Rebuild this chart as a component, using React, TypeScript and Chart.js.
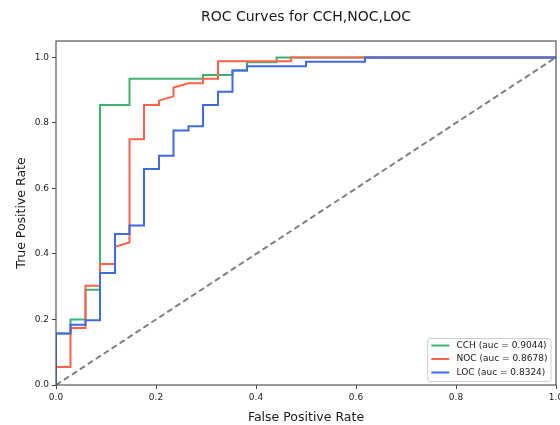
import React, { useEffect, useRef } from 'react';
import { Chart, registerables } from 'chart.js';

Chart.register(...registerables);

const chartTitle = 'ROC Curves for CCH,NOC,LOC';
const xAxisTitle = 'False Positive Rate';
const yAxisTitle = 'True Positive Rate';

const seriesNames = ['CCH', 'NOC', 'LOC'];
const seriesAuc = [0.9044, 0.8678, 0.8324];

const cchFpr = [0, 0, 0.029, 0.029, 0.059, 0.059, 0.088, 0.088, 0.147, 0.147, 0.294, 0.294, 0.353, 0.353, 0.382, 0.382, 0.441, 0.441, 1];
const cchTpr = [0, 0.157, 0.157, 0.2, 0.2, 0.291, 0.291, 0.855, 0.855, 0.935, 0.935, 0.946, 0.946, 0.96, 0.96, 0.985, 0.985, 1, 1];

const nocFpr = [0, 0, 0.029, 0.029, 0.059, 0.059, 0.088, 0.088, 0.118, 0.118, 0.147, 0.147, 0.176, 0.176, 0.206, 0.206, 0.235, 0.235, 0.265, 0.294, 0.294, 0.324, 0.324, 0.47, 0.47, 1];
const nocTpr = [0, 0.055, 0.055, 0.174, 0.174, 0.303, 0.303, 0.369, 0.369, 0.422, 0.435, 0.75, 0.75, 0.855, 0.855, 0.868, 0.881, 0.908, 0.921, 0.921, 0.935, 0.935, 0.988, 0.988, 1, 1];

const locFpr = [0, 0, 0.029, 0.029, 0.059, 0.059, 0.088, 0.088, 0.118, 0.118, 0.147, 0.147, 0.176, 0.176, 0.206, 0.206, 0.235, 0.235, 0.265, 0.265, 0.294, 0.294, 0.324, 0.324, 0.353, 0.353, 0.382, 0.382, 0.5, 0.5, 0.618, 0.618, 1];
const locTpr = [0, 0.157, 0.157, 0.184, 0.184, 0.198, 0.198, 0.342, 0.342, 0.461, 0.461, 0.487, 0.487, 0.659, 0.659, 0.7, 0.7, 0.777, 0.777, 0.79, 0.79, 0.855, 0.855, 0.895, 0.895, 0.96, 0.96, 0.973, 0.973, 0.987, 0.987, 1, 1];

const chanceFpr = [0, 1];
const chanceTpr = [0, 1];

const xTickValues = [0, 0.2, 0.4, 0.6, 0.8, 1.0];
const xTickLabels = ['0.0', '0.2', '0.4', '0.6', '0.8', '1.0'];
const yTickValues = [0, 0.2, 0.4, 0.6, 0.8, 1.0];
const yTickLabels = ['0.0', '0.2', '0.4', '0.6', '0.8', '1.0'];

const FONT = '"DejaVu Sans", sans-serif';

const toPoints = (xs: number[], ys: number[]) => xs.map((x, i) => ({ x, y: ys[i] }));

const decorPlugin = {
  id: 'decor',
  afterDatasetsDraw(chart: any) {
    const { ctx, chartArea: a } = chart;
    ctx.save();
    // frame
    ctx.strokeStyle = '#555';
    ctx.lineWidth = 1.2;
    ctx.strokeRect(a.left, a.top, a.right - a.left, a.bottom - a.top);
    // title
    ctx.fillStyle = '#1a1a1a';
    ctx.font = `14px ${FONT}`;
    ctx.textAlign = 'center';
    ctx.textBaseline = 'middle';
    ctx.fillText(chartTitle, (a.left + a.right) / 2, 17.5);
    // legend
    const items = chart.data.datasets.filter((d: any) => d.inLegend);
    ctx.font = `9px ${FONT}`;
    let maxW = 0;
    items.forEach((d: any) => { maxW = Math.max(maxW, ctx.measureText(d.label).width); });
    const pad = 3.6;
    const handle = 18;
    const gap = 7.2;
    const rowH = 13.5;
    const boxW = pad + handle + gap + maxW + pad;
    const boxH = 43;
    const right = a.right - 5;
    const bottom = a.bottom - 3.5;
    const left = right - boxW;
    const top = bottom - boxH;
    const r = 2.5;
    ctx.beginPath();
    ctx.moveTo(left + r, top);
    ctx.lineTo(right - r, top);
    ctx.quadraticCurveTo(right, top, right, top + r);
    ctx.lineTo(right, bottom - r);
    ctx.quadraticCurveTo(right, bottom, right - r, bottom);
    ctx.lineTo(left + r, bottom);
    ctx.quadraticCurveTo(left, bottom, left, bottom - r);
    ctx.lineTo(left, top + r);
    ctx.quadraticCurveTo(left, top, left + r, top);
    ctx.closePath();
    ctx.fillStyle = 'rgba(255,255,255,0.85)';
    ctx.fill();
    ctx.strokeStyle = '#cccccc';
    ctx.lineWidth = 1;
    ctx.stroke();
    ctx.textAlign = 'left';
    ctx.textBaseline = 'middle';
    items.forEach((d: any, i: number) => {
      const cy = top + 7 + i * rowH;
      ctx.strokeStyle = d.borderColor;
      ctx.lineWidth = 2;
      ctx.beginPath();
      ctx.moveTo(left + pad, cy);
      ctx.lineTo(left + pad + handle, cy);
      ctx.stroke();
      ctx.fillStyle = '#1a1a1a';
      ctx.fillText(d.label, left + pad + handle + gap, cy);
    });
    ctx.restore();
  },
};

export default function App() {
  const ref = useRef<HTMLCanvasElement | null>(null);

  useEffect(() => {
    if (!ref.current) return;
    const colors = ['#3cb371', '#ff6347', '#4169e1'];
    const series = [
      [cchFpr, cchTpr],
      [nocFpr, nocTpr],
      [locFpr, locTpr],
    ];
    const datasets: any[] = series.map((s, i) => ({
      label: `${seriesNames[i]} (auc = ${seriesAuc[i].toFixed(4)})`,
      data: toPoints(s[0], s[1]),
      borderColor: colors[i],
      backgroundColor: colors[i],
      borderWidth: 2,
      pointRadius: 0,
      tension: 0,
      fill: false,
      order: 2 - i,
      inLegend: true,
      borderJoinStyle: 'miter',
    }));
    datasets.push({
      label: 'chance',
      data: toPoints(chanceFpr, chanceTpr),
      borderColor: '#808080',
      borderWidth: 2,
      borderDash: [6, 3.5],
      pointRadius: 0,
      fill: false,
      order: 5,
      inLegend: false,
    });

    const tickFont = { family: FONT, size: 9 };
    const titleFont = { family: FONT, size: 12.5, lineHeight: 1.2 };

    const chart = new Chart(ref.current, {
      type: 'line',
      data: { datasets },
      options: {
        animation: false,
        responsive: false,
        layout: { padding: { left: 0, right: 4, top: 41, bottom: 0 } },
        plugins: {
          legend: { display: false },
          tooltip: { enabled: false },
          title: { display: false },
        },
        scales: {
          x: {
            type: 'linear',
            min: 0,
            max: 1,
            afterBuildTicks: (s: any) => { s.ticks = xTickValues.map((v) => ({ value: v })); },
            afterFit: (s: any) => { s.height = 40; s.paddingLeft = 0; s.paddingRight = 0; },
            ticks: {
              callback: (_v: any, i: number) => xTickLabels[i],
              font: tickFont,
              color: '#222',
              padding: 3,
              maxRotation: 0,
              autoSkip: false,
            },
            grid: { drawOnChartArea: false, drawTicks: true, tickLength: 4, tickColor: '#444', tickWidth: 1 },
            border: { display: false },
            title: { display: true, text: xAxisTitle, font: titleFont, color: '#1a1a1a', padding: { top: 0, bottom: 0 } },
          },
          y: {
            type: 'linear',
            min: 0,
            max: 1.05,
            afterBuildTicks: (s: any) => { s.ticks = yTickValues.map((v) => ({ value: v })); },
            afterFit: (s: any) => { s.width = 56; s.paddingTop = 0; s.paddingBottom = 0; },
            ticks: {
              callback: (_v: any, i: number) => yTickLabels[i],
              font: tickFont,
              color: '#222',
              padding: 3,
              autoSkip: false,
            },
            grid: { drawOnChartArea: false, drawTicks: true, tickLength: 4, tickColor: '#444', tickWidth: 1 },
            border: { display: false },
            title: { display: true, text: yAxisTitle, font: titleFont, color: '#1a1a1a', padding: { top: 14, bottom: 0 } },
          },
        },
      } as any,
      plugins: [decorPlugin],
    });
    return () => chart.destroy();
  }, []);

  return (
    <div style={{ position: 'fixed', left: 0, top: 0, width: 560, height: 425, background: '#fff' }}>
      <canvas ref={ref} width={560} height={425} style={{ display: 'block', width: 560, height: 425 }} />
    </div>
  );
}
